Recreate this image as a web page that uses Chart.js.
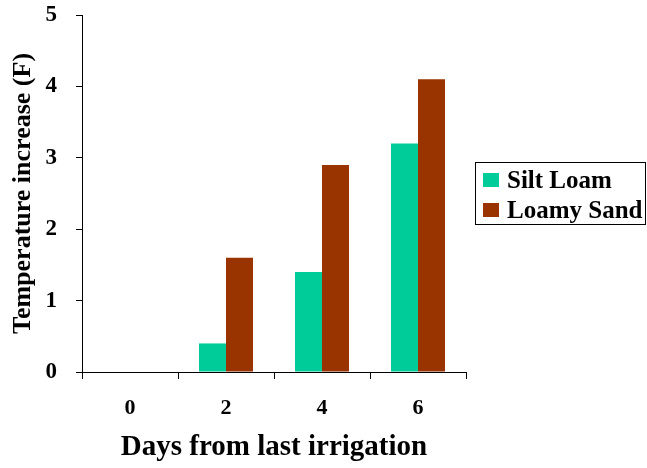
<!DOCTYPE html>
<html>
<head>
<meta charset="utf-8">
<script src="https://cdn.jsdelivr.net/npm/chart.js@4"></script>
<style>
  html, body { margin: 0; padding: 0; background: #fff; }
  #wrap { width: 647px; height: 468px; }
</style>
</head>
<body>
<div id="wrap"><canvas id="c" width="647" height="468"></canvas></div>
<script>
// Days since the last irrigation
const days = ['0', '2', '4', '6'];
// Temperature increase (F) by soil type
const siltLoam = [0, 0.4, 1.4, 3.2];
const loamySand = [0, 1.6, 2.9, 4.1];
const seriesNames = ['Silt Loam', 'Loamy Sand'];
const seriesColors = ['#00CC99', '#993300'];

const serif = '"Liberation Serif", "Times New Roman", serif';

// Boxed legend on the right side of the plot
const boxedLegend = {
  id: 'boxedLegend',
  afterDraw(chart) {
    const ctx = chart.ctx;
    const x0 = 475, y0 = 162, w = 170, h = 62;
    ctx.save();
    ctx.strokeStyle = '#000';
    ctx.lineWidth = 1;
    ctx.strokeRect(x0 + 0.5, y0 + 0.5, w, h);
    ctx.font = 'bold 25px ' + serif;
    ctx.textBaseline = 'alphabetic';
    ctx.textAlign = 'left';
    chart.data.datasets.forEach((ds, i) => {
      const rowY = y0 + 11 + i * 30;
      ctx.fillStyle = ds.backgroundColor;
      ctx.fillRect(x0 + 8, rowY, 16, 14);
      ctx.fillStyle = '#000';
      ctx.fillText(ds.label, x0 + 32, rowY + 15);
    });
    ctx.restore();
  }
};

new Chart(document.getElementById('c'), {
  type: 'bar',
  data: {
    labels: days,
    datasets: [
      { label: seriesNames[0], data: siltLoam, backgroundColor: seriesColors[0] },
      { label: seriesNames[1], data: loamySand, backgroundColor: seriesColors[1] }
    ]
  },
  options: {
    responsive: false,
    animation: false,
    devicePixelRatio: 1,
    categoryPercentage: 0.5625,
    barPercentage: 1,
    layout: { padding: { top: 0, right: 181, left: 0, bottom: 0 } },
    plugins: {
      legend: { display: false },
      tooltip: { enabled: false }
    },
    scales: {
      x: {
        grid: { display: true, drawOnChartArea: false, drawTicks: true, tickLength: 7, color: '#000', offset: true },
        border: { display: true, color: '#000', width: 1 },
        ticks: { color: '#000', font: { family: serif, size: 22, weight: 'bold' }, padding: 16 },
        title: { display: true, text: 'Days from last irrigation', color: '#000',
                 font: { family: serif, size: 29, weight: 'bold' }, padding: 3 },
        afterFit(scale) { scale.height = 96; }
      },
      y: {
        min: 0, max: 5,
        grid: { display: true, drawOnChartArea: false, drawTicks: true, tickLength: 6, color: '#000' },
        border: { display: true, color: '#000', width: 1 },
        ticks: { stepSize: 1, color: '#000', font: { family: serif, size: 23, weight: 'bold' }, padding: 19 },
        title: { display: true, text: 'Temperature increase (F)', color: '#000',
                 font: { family: serif, size: 26, weight: 'bold' }, padding: 8 },
        afterFit(scale) {
          scale.width = 82;
          scale.paddingTop = 15;
          scale.paddingBottom = 0;
        }
      }
    }
  },
  plugins: [boxedLegend]
});
</script>
</body>
</html>
